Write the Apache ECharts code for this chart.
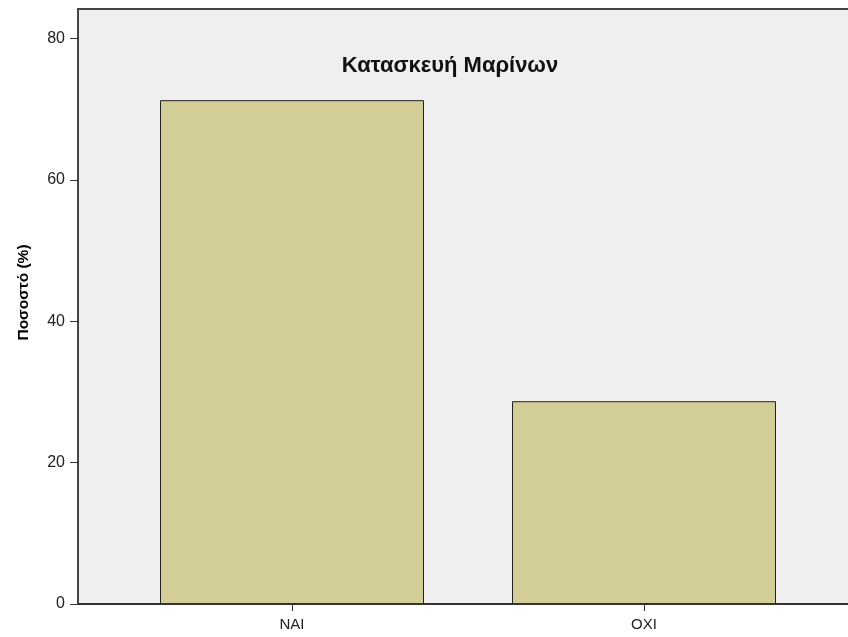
<!DOCTYPE html>
<html>
<head>
<meta charset="utf-8">
<script src="https://cdn.jsdelivr.net/npm/echarts@6/dist/echarts.min.js"></script>
<style>
html,body{margin:0;padding:0;background:#fff;}
#c{width:848px;height:637px;}
</style>
</head>
<body>
<div id="c"></div>
<script>
const categories = ['NAI', 'OXI'];
const percentValues = [71.3, 28.7];
const yTicks = [0, 20, 40, 60, 80];
const titleText = 'Κατασκευή Μαρίνων';
const yAxisTitle = 'Ποσοστό (%)';

const chart = echarts.init(document.getElementById('c'), null, {renderer: 'canvas'});
const FONT = '"Liberation Sans", Arial, sans-serif';
const Y_MAX = 84.2;

chart.setOption({
  animation: false,
  backgroundColor: '#ffffff',
  title: {
    text: titleText,
    left: 445, top: 50,
    textAlign: 'center',
    textStyle: {fontFamily: FONT, fontSize: 22, fontWeight: 'bold', color: '#111'}
  },
  grid: [
    {left: 78, top: 9, bottom: 33, right: 0, show: true,
     backgroundColor: '#efefef', borderWidth: 0},
    {left: 116, width: 704, top: 9, bottom: 33, show: false}
  ],
  xAxis: [
    {gridIndex: 0, type: 'value', min: 0, max: 1, position: 'top',
     axisLine: {show: true, onZero: false, lineStyle: {color: '#444', width: 2}},
     axisTick: {show: false}, axisLabel: {show: false}, splitLine: {show: false}},
    {gridIndex: 1, type: 'category', data: categories,
     axisLine: {show: false},
     axisTick: {show: true, alignWithLabel: true, length: 7, lineStyle: {color: '#333', width: 1}},
     axisLabel: {fontFamily: FONT, fontSize: 15, color: '#222', margin: 13},
     splitLine: {show: false}}
  ],
  yAxis: [
    {gridIndex: 0, type: 'value', min: 0, max: Y_MAX, interval: 20,
     axisLine: {show: true, onZero: false, lineStyle: {color: '#444', width: 2}},
     axisTick: {show: true, length: 8, lineStyle: {color: '#333', width: 1},
       customValues: yTicks},
     axisLabel: {fontFamily: FONT, fontSize: 16, color: '#222', margin: 13,
       customValues: yTicks},
     splitLine: {show: false},
     name: yAxisTitle, nameLocation: 'middle', nameGap: 46,
     nameTextStyle: {fontFamily: FONT, fontSize: 15.5, fontWeight: 'bold', color: '#000',
       padding: [0, 0, 0, 28]}},
    {gridIndex: 1, type: 'value', min: 0, max: Y_MAX, show: false}
  ],
  series: [{
    type: 'bar',
    xAxisIndex: 1, yAxisIndex: 1,
    data: percentValues,
    barWidth: '75%',
    itemStyle: {color: '#d3cd98', borderColor: '#222', borderWidth: 1}
  }, {
    type: 'line', xAxisIndex: 0, yAxisIndex: 0, data: [],
    markLine: {silent: true, symbol: 'none', label: {show: false},
      lineStyle: {color: '#333', width: 2, type: 'solid'},
      data: [{yAxis: 0}]}
  }]
});
</script>
</body>
</html>
